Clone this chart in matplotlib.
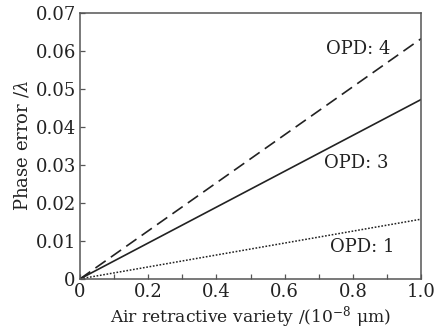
import matplotlib
matplotlib.use("Agg")
import matplotlib.pyplot as plt
from matplotlib.ticker import MultipleLocator

plt.rcParams["font.family"] = ["DejaVu Serif"]
plt.rcParams["mathtext.fontset"] = "dejavuserif"

# air refractive variety, 1e-8 um
x = [0.0, 1.0]
# phase error / lambda for each OPD
opd1 = [0.0, 0.0157]
opd3 = [0.0, 0.0472]
opd4 = [0.0, 0.0632]

fig = plt.figure(figsize=(4.35, 3.3), dpi=100)
ax = fig.add_axes([0.184, 0.155, 0.784, 0.806])

ax.plot(x, opd4, color="#222222", lw=1.2, linestyle=(0, (7.5, 3.8)))
ax.plot(x, opd3, color="#222222", lw=1.2)
ax.plot(x, opd1, color="#222222", lw=1.1, linestyle=(0, (1.1, 1.1)))

fs = 13
ax.text(0.72, 0.0605, "OPD: 4", fontsize=fs, va="center", color="#222222")
ax.text(0.715, 0.0305, "OPD: 3", fontsize=fs, va="center", color="#222222")
ax.text(0.733, 0.0083, "OPD: 1", fontsize=fs, va="center", color="#222222")

ax.set_xlim(0, 1.0)
ax.set_ylim(0, 0.07)
ax.xaxis.set_minor_locator(MultipleLocator(0.1))
ax.set_xticks([0, 0.2, 0.4, 0.6, 0.8, 1.0])
ax.set_xticklabels(["0", "0.2", "0.4", "0.6", "0.8", "1.0"])
ax.set_yticks([0, 0.01, 0.02, 0.03, 0.04, 0.05, 0.06, 0.07])
ax.set_yticklabels(["0", "0.01", "0.02", "0.03", "0.04", "0.05", "0.06", "0.07"])
ax.tick_params(direction="in", labelsize=fs, length=3.5, width=0.9, pad=3,
               color="#555555", labelcolor="#222222")
ax.tick_params(which="minor", direction="in", length=3.5, width=0.9, color="#555555")

for s in ax.spines.values():
    s.set_linewidth(1.1)
    s.set_color("#555555")

ax.set_xlabel("Air retractive variety /(10$^{-8}$ μm)", fontsize=12.3, labelpad=2, color="#222222")
ax.set_ylabel("Phase error /$\\lambda$", fontsize=fs, labelpad=3, color="#222222")

fig.savefig("out.png", dpi=100)
